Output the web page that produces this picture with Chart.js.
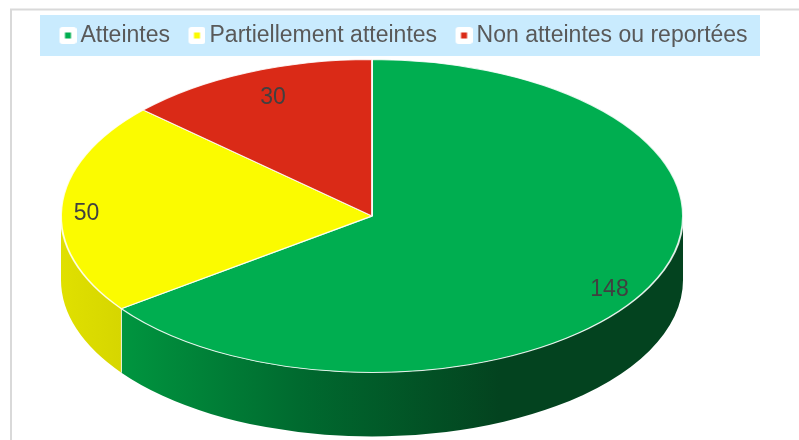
<!DOCTYPE html>
<html>
<head>
<meta charset="utf-8">
<script src="https://cdn.jsdelivr.net/npm/chart.js@4"></script>
<style>
  body { margin: 0; background: #fff; }
  canvas { display: block; }
</style>
</head>
<body>
<canvas id="pieChart" width="799" height="440"></canvas>
<script>
const categories = ['Atteintes', 'Partiellement atteintes', 'Non atteintes ou reportées'];
const values = [148, 50, 30];
const sliceColors = ['#00AE50', '#FBFB00', '#DA2A17'];

// look of the tilted pie
const stretchX = 312 / 157;
const wallDepth = 64;
const labelFont = '23px "Liberation Sans", Arial, sans-serif';
// label shift from the rim of each slice, in px
const labelShifts = [[-40, 3], [25, 6], [26, 25]];

// white tile with a small coloured square, wider on the left to place it next to the text
function legendMarker(color) {
    const c = document.createElement('canvas');
    c.width = 24;
    c.height = 17;
    const g = c.getContext('2d');
    g.fillStyle = '#fff';
    g.beginPath();
    g.roundRect(7, 0, 17, 17, 3);
    g.fill();
    g.fillStyle = color;
    g.fillRect(12.5, 5.5, 6, 6);
    return c;
}

function wallGradient(ctx, index) {
    if (index === 1) {
        const g = ctx.createLinearGradient(61, 0, 122, 0);
        g.addColorStop(0, '#E0E000');
        g.addColorStop(1, '#D6D600');
        return g;
    }
    const g = ctx.createLinearGradient(122, 0, 500, 0);
    g.addColorStop(0, '#00953F');
    g.addColorStop(0.47, '#006A2F');
    g.addColorStop(1, '#03431F');
    return g;
}

const tiltedPie = {
    id: 'tiltedPie',
    beforeInit(chart) {
        const fit = chart.legend.fit;
        chart.legend.fit = function () {
            // one row across the whole page, and no more room than the band takes
            this.maxWidth = chart.width;
            fit.call(this);
            this.height = 54;
        };
    },
    afterLayout(chart) {
        chart.legend.left = 41;
        chart.legend.right = chart.width;
    },
    beforeDraw(chart) {
        const ctx = chart.ctx;
        ctx.save();
        ctx.fillStyle = '#fff';
        ctx.fillRect(0, 0, chart.width, chart.height);
        ctx.strokeStyle = '#D9D9D9';
        ctx.lineWidth = 2;
        ctx.strokeRect(11, 9.5, 1000, 1000);
        ctx.fillStyle = '#C9EBFE';
        ctx.fillRect(40, 15, 720, 41);
        ctx.restore();
    },
    beforeDatasetsDraw(chart) {
        const ctx = chart.ctx;
        const arcs = chart.getDatasetMeta(0).data;
        ctx.save();
        arcs.forEach(function (arc, i) {
            // only the part of a slice on the front half has a visible wall
            const from = Math.max(arc.startAngle, 0);
            const to = Math.min(arc.endAngle, Math.PI);
            if (to <= from) return;
            const rx = arc.outerRadius * stretchX;
            const ry = arc.outerRadius;
            ctx.beginPath();
            ctx.ellipse(arc.x, arc.y, rx, ry, 0, from, to);
            ctx.ellipse(arc.x, arc.y + wallDepth, rx, ry, 0, to, from, true);
            ctx.closePath();
            ctx.fillStyle = wallGradient(ctx, i);
            ctx.fill();
        });
        // seam between the two walls
        const seam = arcs[0];
        const sx = seam.x + Math.cos(seam.endAngle) * seam.outerRadius * stretchX;
        const sy = seam.y + Math.sin(seam.endAngle) * seam.outerRadius;
        ctx.strokeStyle = 'rgba(255,255,255,0.8)';
        ctx.lineWidth = 1;
        ctx.beginPath();
        ctx.moveTo(sx, sy);
        ctx.lineTo(sx, sy + wallDepth);
        ctx.stroke();
        ctx.restore();

        ctx.save();
        ctx.translate(arcs[0].x, 0);
        ctx.scale(stretchX, 1);
        ctx.translate(-arcs[0].x, 0);
    },
    afterDatasetsDraw(chart) {
        const ctx = chart.ctx;
        ctx.restore();
        ctx.save();
        ctx.font = labelFont;
        ctx.fillStyle = '#404040';
        ctx.textAlign = 'center';
        ctx.textBaseline = 'middle';
        chart.getDatasetMeta(0).data.forEach(function (arc, i) {
            const mid = (arc.startAngle + arc.endAngle) / 2;
            const x = arc.x + Math.cos(mid) * arc.outerRadius * stretchX + labelShifts[i][0];
            const y = arc.y + Math.sin(mid) * arc.outerRadius + labelShifts[i][1];
            ctx.fillText(String(values[i]), x, y);
        });
        ctx.restore();
    }
};

var ctxPie = document.getElementById('pieChart').getContext('2d');
var pieChart = new Chart(ctxPie, {
    type: 'pie',
    data: {
        labels: categories,
        datasets: [{
            data: values,
            backgroundColor: sliceColors,
            borderColor: 'rgba(255,255,255,0.85)',
            borderWidth: 1
        }]
    },
    options: {
        responsive: false,
        animation: false,
        layout: { padding: { top: 5, right: 55, bottom: 67, left: 0 } },
        plugins: {
            tooltip: { enabled: false },
            legend: {
                position: 'top',
                align: 'start',
                labels: {
                    usePointStyle: true,
                    boxWidth: 9,
                    padding: 19,
                    color: '#595959',
                    font: { family: '"Liberation Sans", Arial, sans-serif', size: 23 },
                    generateLabels(chart) {
                        return Chart.overrides.pie.plugins.legend.labels.generateLabels(chart).map(function (item, i) {
                            item.pointStyle = legendMarker(sliceColors[i]);
                            return item;
                        });
                    }
                }
            }
        }
    },
    plugins: [tiltedPie]
});
</script>
</body>
</html>
